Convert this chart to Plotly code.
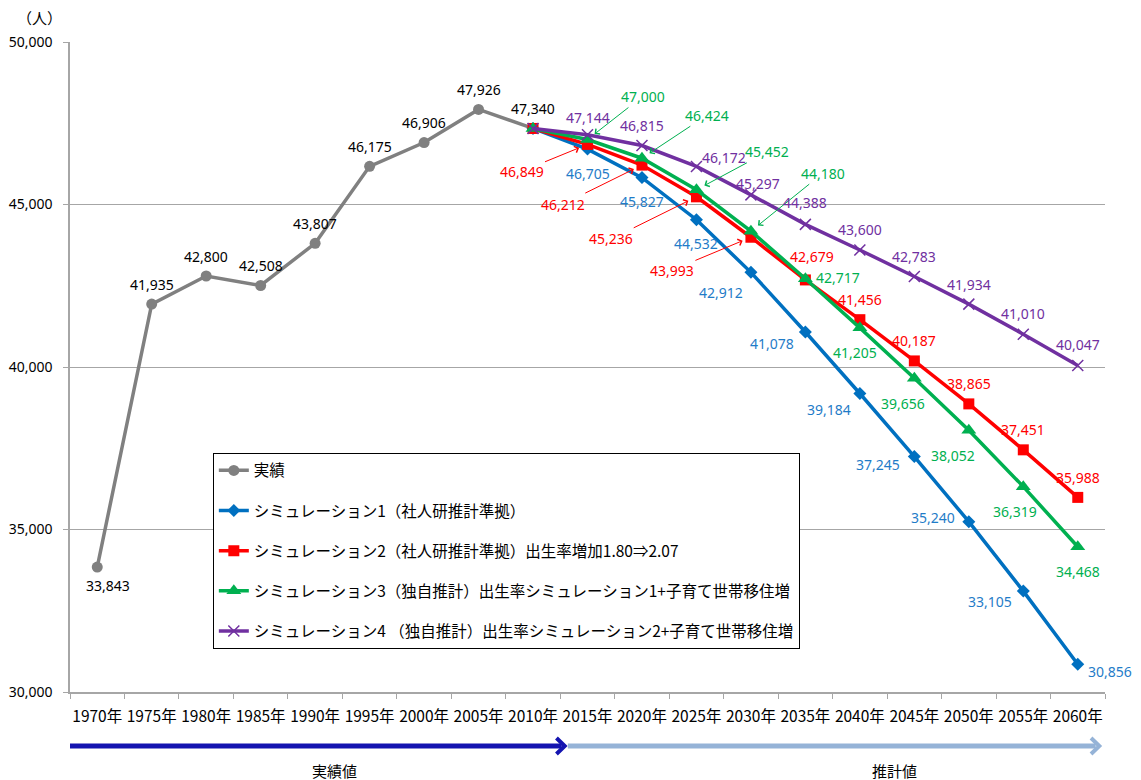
import plotly.graph_objects as go

years = ["1970年", "1975年", "1980年", "1985年", "1990年", "1995年", "2000年", "2005年", "2010年",
         "2015年", "2020年", "2025年", "2030年", "2035年", "2040年", "2045年", "2050年", "2055年", "2060年"]
actual_years = years[:9]
sim_years = years[8:]

actual = [33843, 41935, 42800, 42508, 43807, 46175, 46906, 47926, 47340]
sim1 = [47340, 46705, 45827, 44532, 42912, 41078, 39184, 37245, 35240, 33105, 30856]
sim2 = [47340, 46849, 46212, 45236, 43993, 42679, 41456, 40187, 38865, 37451, 35988]
sim3 = [47340, 47000, 46424, 45452, 44180, 42717, 41205, 39656, 38052, 36319, 34468]
sim4 = [47340, 47144, 46815, 46172, 45297, 44388, 43600, 42783, 41934, 41010, 40047]

names = ["実績",
         "シミュレーション1（社人研推計準拠）",
         "シミュレーション2（社人研推計準拠）出生率増加1.80⇒2.07",
         "シミュレーション3（独自推計）出生率シミュレーション1+子育て世帯移住増",
         "シミュレーション4 （独自推計）出生率シミュレーション2+子育て世帯移住増"]

GRAY, BLUE, RED, GREEN, PURPLE = '#808080', '#0070C0', '#FF0000', '#00B050', '#7030A0'
LBL_BLUE = '#1F7CC8'

# label offsets in pixels (dx, dy: screen down), 'A' = with leader arrow
off_actual = [(11, 18)] + [(0, -20)] * 8
off_sim1 = [None, (0, 24), (0, 24), (0, 24), (-30, 20), (-33, 12), (-31, 16), (-36, 8), (-36, -4), (-33, 10), (32, 7)]
off_sim2 = [None, ('A', -66, 27), ('A', -79, 39), ('A', -85, 42), ('A', -79, 33),
            (7, -23), (0, -20), (0, -20), (0, -20), (0, -20), (0, -20)]
off_sim3 = [None, ('A', 55, -43), ('A', 65, -43), ('A', 71, -38), ('A', 72, -58),
            (33, -1), (-5, 25), (-11, 25), (-16, 25), (-8, 25), (0, 25)]
off_sim4 = [None, (0, -17), (0, -20), (28, -9), (7, -11), (0, -22), (0, -21), (0, -20), (0, -20), (0, -21), (0, -21)]

fig = go.Figure()
fig.add_trace(go.Scatter(x=actual_years, y=actual, mode='lines+markers', name=names[0],
                         line=dict(color=GRAY, width=3.5), marker=dict(symbol='circle', size=11, color=GRAY)))
fig.add_trace(go.Scatter(x=sim_years, y=sim1, mode='lines+markers', name=names[1],
                         line=dict(color=BLUE, width=3.5), marker=dict(symbol='diamond', size=10, color=BLUE)))
fig.add_trace(go.Scatter(x=sim_years, y=sim2, mode='lines+markers', name=names[2],
                         line=dict(color=RED, width=3.5), marker=dict(symbol='square', size=11, color=RED)))
fig.add_trace(go.Scatter(x=sim_years, y=sim3, mode='lines+markers', name=names[3],
                         line=dict(color=GREEN, width=3.5), marker=dict(symbol='triangle-up', size=13, color=GREEN)))
fig.add_trace(go.Scatter(x=sim_years, y=sim4, mode='lines+markers', name=names[4],
                         line=dict(color=PURPLE, width=3.5),
                         marker=dict(symbol='x-thin', size=11, color=PURPLE, line=dict(color=PURPLE, width=1.5))))
for i, t in enumerate(fig.data):
    t.legendgroup = 'g%d' % i
    t.hoverinfo = 'x+y+name'


def add_labels(xs, ys, offs, color):
    for x, y, o in zip(xs, ys, offs):
        if o is None:
            continue
        txt = f"{y:,}"
        if o[0] == 'A':
            fig.add_annotation(x=x, y=y, text=txt, showarrow=True, ax=o[1], ay=o[2],
                               arrowhead=4, arrowsize=1.3, arrowwidth=1, arrowcolor=color,
                               standoff=9, font=dict(color=color, size=14, family='Noto Sans'))
        else:
            fig.add_annotation(x=x, y=y, text=txt, showarrow=False, xshift=o[0], yshift=-o[1],
                               font=dict(color=color, size=14, family='Noto Sans'))


add_labels(actual_years, actual, off_actual, '#000000')
add_labels(sim_years, sim1, off_sim1, LBL_BLUE)
add_labels(sim_years, sim2, off_sim2, RED)
add_labels(sim_years, sim3, off_sim3, GREEN)
add_labels(sim_years, sim4, off_sim4, PURPLE)

# unit label and bottom period arrows
fig.add_annotation(x=-0.029, y=1.037, xref='paper', yref='paper', text='（人）', showarrow=False,
                   xanchor='center', yanchor='middle', font=dict(size=15, color='#000000'))
fig.add_annotation(x=0.256, y=-0.12, xref='paper', yref='paper', text='実績値', showarrow=False,
                   xanchor='center', yanchor='middle', font=dict(size=15, color='#000000'))
fig.add_annotation(x=0.797, y=-0.12, xref='paper', yref='paper', text='推計値', showarrow=False,
                   xanchor='center', yanchor='middle', font=dict(size=15, color='#000000'))

ya = -0.0831
dy = 0.0123
fig.add_shape(type='line', xref='paper', yref='paper', x0=0.0, x1=0.475, y0=ya, y1=ya,
              line=dict(color='#1414B0', width=5))
fig.add_shape(type='path', xref='paper', yref='paper',
              path=f'M 0.470,{ya + dy} L 0.478,{ya} L 0.470,{ya - dy}', line=dict(color='#1414B0', width=4))
fig.add_shape(type='line', xref='paper', yref='paper', x0=0.481, x1=0.991, y0=ya, y1=ya,
              line=dict(color='#95B3D7', width=5))
fig.add_shape(type='path', xref='paper', yref='paper',
              path=f'M 0.9865,{ya + dy} L 0.9945,{ya} L 0.9865,{ya - dy}', line=dict(color='#95B3D7', width=4))

# page body has an 8px margin, so the figure is 8px smaller and margins shifted
fig.update_layout(
    width=1133, height=772,
    margin=dict(l=62, r=36, t=34, b=88),
    paper_bgcolor='white', plot_bgcolor='white',
    font=dict(family='Noto Sans CJK JP, Noto Sans', color='#000000', size=14),
    showlegend=True,
    legend=dict(x=0.138, y=0.368, xanchor='left', yanchor='top', bgcolor='white',
                bordercolor='#000000', borderwidth=1, tracegroupgap=17, traceorder='grouped',
                font=dict(size=15.5, family='Noto Sans CJK JP'), itemwidth=30),
    xaxis=dict(type='category', categoryorder='array', categoryarray=years, range=[-0.5, 18.5],
               showgrid=False, showline=True, linecolor='#A6A6A6', linewidth=1.5, automargin=False,
               ticks='outside', tickson='boundaries', ticklen=5, tickcolor='#A6A6A6',
               tickangle=0, ticklabelstandoff=10, tickfont=dict(size=15.5, family='Noto Sans CJK JP')),
    yaxis=dict(range=[30000, 50000], dtick=5000, tickformat=',', showgrid=True, gridcolor='#A6A6A6',
               gridwidth=1, showline=True, linecolor='#A6A6A6', linewidth=1.5, ticks='outside',
               ticklen=5, tickcolor='#A6A6A6', zeroline=False, ticklabelstandoff=8, automargin=False,
               tickfont=dict(size=14, family='Noto Sans')),
)

fig.write_html("out.html")
